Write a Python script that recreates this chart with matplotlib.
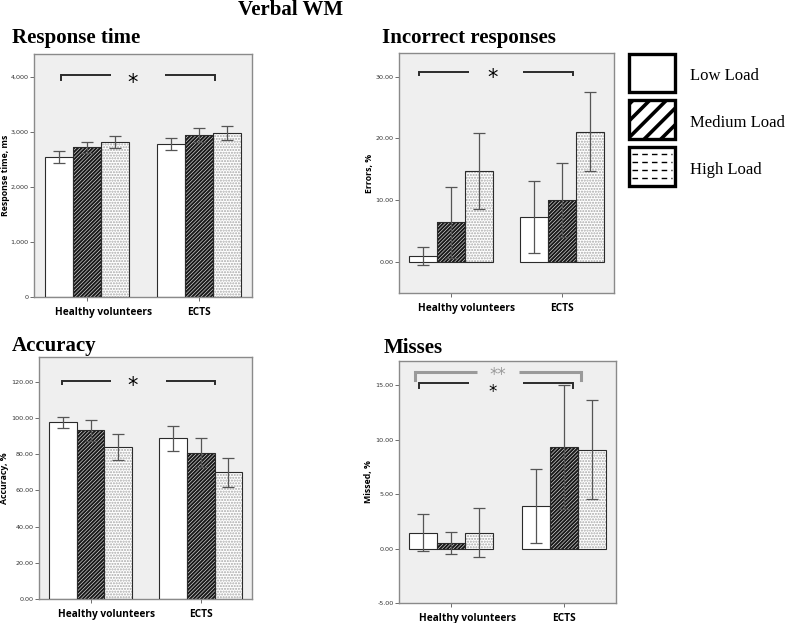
import matplotlib
matplotlib.use("Agg")
import matplotlib.pyplot as plt
from matplotlib.patches import Rectangle
import numpy as np

W, H, DPI = 785, 623, 100

groups = ["Healthy volunteers", "ECTS"]
loads = ["Low Load", "Medium Load", "High Load"]

# means and error-bar half widths, rows = loads, cols = groups
rt_mean = [[2550, 2780], [2720, 2950], [2820, 2980]]
rt_err = [[105, 115], [100, 125], [105, 130]]

err_mean = [[0.95, 7.3], [6.4, 10.0], [14.7, 21.1]]
err_ci = [[1.45, 5.85], [5.75, 6.0], [6.2, 6.45]]

acc_mean = [[97.7, 88.8], [93.3, 80.9], [83.9, 70.0]]
acc_ci = [[3.0, 6.8], [5.8, 8.1], [7.3, 8.0]]

miss_mean = [[1.47, 3.93], [0.52, 9.3], [1.47, 9.1]]
miss_ci = [[1.7, 3.4], [1.05, 5.7], [2.25, 4.55]]

BG = "#efefef"
SPINE = "#8a8a8a"
DARK = "#2b2b2b"
BAR_W = 0.25
LABEL_SHIFT = [0.145, 0.0]   # SPSS put the first category label off-centre

fig = plt.figure(figsize=(W / DPI, H / DPI), dpi=DPI)


def px_axes(x0, y0, x1, y1):
    return fig.add_axes([x0 / W, 1 - y1 / H, (x1 - x0) / W, (y1 - y0) / H])


def panel(ax, mean, ci, ylim, xlim, yticks, fmt, ylabel, ylabel_x):
    x = np.arange(len(groups))
    hatches = [None, "/////////", "......"]
    hcolors = ["white", "#1a1a1a", "#a8a8a8"]
    hlw = [1.0, 1.5, 1.0]
    for i in range(len(loads)):
        pos = x + (i - 1) * BAR_W
        with plt.rc_context({"hatch.linewidth": hlw[i]}):
            ax.bar(pos, mean[i], BAR_W, color="white", edgecolor=hcolors[i],
                   hatch=hatches[i], linewidth=0, zorder=2)
        ax.bar(pos, mean[i], BAR_W, fill=False, edgecolor=DARK, linewidth=0.8,
               zorder=3, yerr=ci[i],
               error_kw=dict(ecolor="#555555", elinewidth=0.9, capsize=4,
                             capthick=0.9, zorder=4))
    ax.set_facecolor(BG)
    ax.set_xlim(*xlim)
    ax.set_ylim(*ylim)
    ax.set_yticks(yticks)
    ax.set_yticklabels([fmt.format(v) for v in yticks], fontsize=4.6,
                       color="#333333")
    ax.xaxis.remove_overlapping_locs = False
    ax.set_xticks(x + np.array(LABEL_SHIFT))
    ax.set_xticklabels(groups, fontsize=7.3, fontweight="bold",
                       family=["Open Sans", "DejaVu Sans"])
    ax.set_xticks(x, minor=True)
    ax.tick_params(axis="x", which="major", length=0, pad=7)
    ax.tick_params(axis="x", which="minor", length=3, width=0.6,
                   color="#555555")
    ax.tick_params(axis="y", length=3, width=0.6, color="#555555", pad=1)
    for s in ax.spines.values():
        s.set_color(SPINE)
        s.set_linewidth(1.0)
    ax.set_ylabel(ylabel, fontsize=6.3, fontweight="bold",
                  family=["Open Sans", "DejaVu Sans"])
    ax.yaxis.set_label_coords(ylabel_x, 0.5)


def bracket(ax, x0, x1, y, drop, side, color=DARK, lw=1.4):
    ax.plot([x0, x1], [y, y], color=color, lw=lw, zorder=5, solid_capstyle="butt")
    xe = x0 if side == "left" else x1
    ax.plot([xe, xe], [y, y - drop], color=color, lw=lw, zorder=5)


def star(ax, x, y, txt="*", color="black", size=15):
    ax.text(x, y, txt, ha="center", va="center", fontsize=size, color=color,
            zorder=6)


# Response time
ax1 = px_axes(34, 54, 252, 297)
panel(ax1, rt_mean, rt_err, (0, 4420), (-0.472, 1.473),
      [0, 1000, 2000, 3000, 4000], "{:,.0f}", "Response time, ms", -0.112)
bracket(ax1, -0.23, 0.212, 4030, 80, "left")
bracket(ax1, 0.695, 1.14, 4030, 80, "right")
star(ax1, 0.41, 3900)

# Incorrect responses
ax2 = px_axes(399, 53, 614, 293)
panel(ax2, err_mean, err_ci, (-5, 33.8), (-0.467, 1.467),
      [0, 10, 20, 30], "{:.2f}", "Errors, %", -0.118)
bracket(ax2, -0.285, 0.164, 30.8, 0.6, "left")
bracket(ax2, 0.65, 1.099, 30.8, 0.6, "right")
star(ax2, 0.372, 29.8)

# Accuracy
ax3 = px_axes(39, 357, 252, 599)
panel(ax3, acc_mean, acc_ci, (0, 133.8), (-0.469, 1.465),
      [0, 20, 40, 60, 80, 100, 120], "{:.2f}", "Accuracy, %", -0.14)
bracket(ax3, -0.26, 0.187, 120.6, 1.8, "left")
bracket(ax3, 0.68, 1.13, 120.6, 1.8, "right")
star(ax3, 0.385, 117.5)

# Misses
ax4 = px_axes(399, 361, 616, 603)
panel(ax4, miss_mean, miss_ci, (-5, 17.24), (-0.463, 1.463),
      [-5, 0, 5, 10, 15], "{:.2f}", "Missed, %", -0.118)
bracket(ax4, -0.317, 0.231, 16.25, 0.75, "left", color="#9a9a9a", lw=2.2)
bracket(ax4, 0.602, 1.151, 16.25, 0.75, "right", color="#9a9a9a", lw=2.2)
star(ax4, 0.41, 15.95, "**", color="#9a9a9a", size=12)
bracket(ax4, -0.285, 0.16, 15.2, 0.4, "left")
bracket(ax4, 0.64, 1.085, 15.2, 0.4, "right")
star(ax4, 0.365, 14.35, size=12)

# titles
serif = ["Liberation Serif", "DejaVu Serif"]
fig.text(291 / W, 1 - 15 / H, "Verbal WM", ha="center", va="baseline",
         fontsize=15, fontweight="bold", family=serif)
fig.text(12 / W, 1 - 43 / H, "Response time", ha="left", va="baseline",
         fontsize=15, fontweight="bold", family=serif)
fig.text(382 / W, 1 - 43 / H, "Incorrect responses", ha="left", va="baseline",
         fontsize=15, fontweight="bold", family=serif)
fig.text(12 / W, 1 - 351 / H, "Accuracy", ha="left", va="baseline",
         fontsize=15, fontweight="bold", family=serif)
fig.text(384 / W, 1 - 353 / H, "Misses", ha="left", va="baseline",
         fontsize=15, fontweight="bold", family=serif)

# legend
leg = px_axes(626, 50, 785, 190)
leg.set_xlim(626, 785)
leg.set_ylim(190, 50)
leg.axis("off")
box_tops = [53.5, 100, 146.7]
for i, lbl in enumerate(loads):
    top = box_tops[i]
    if i == 1:
        with plt.rc_context({"hatch.linewidth": 2.6}):
            leg.add_patch(Rectangle((629, top), 46, 39, facecolor="white",
                                    edgecolor="black", hatch="//", linewidth=0))
    leg.add_patch(Rectangle((629, top), 46, 39, fill=False,
                            edgecolor="black", linewidth=2.4, zorder=3))
    if i == 2:
        for k in range(1, 5):
            leg.hlines(top + k * 7.8, 632, 672, color="black", lw=1.0,
                       linestyles=(0, (4, 3)))
    leg.text(690, top + 27, lbl, ha="left", va="baseline", fontsize=12,
             family=serif)

plt.savefig("out.png", dpi=DPI)
